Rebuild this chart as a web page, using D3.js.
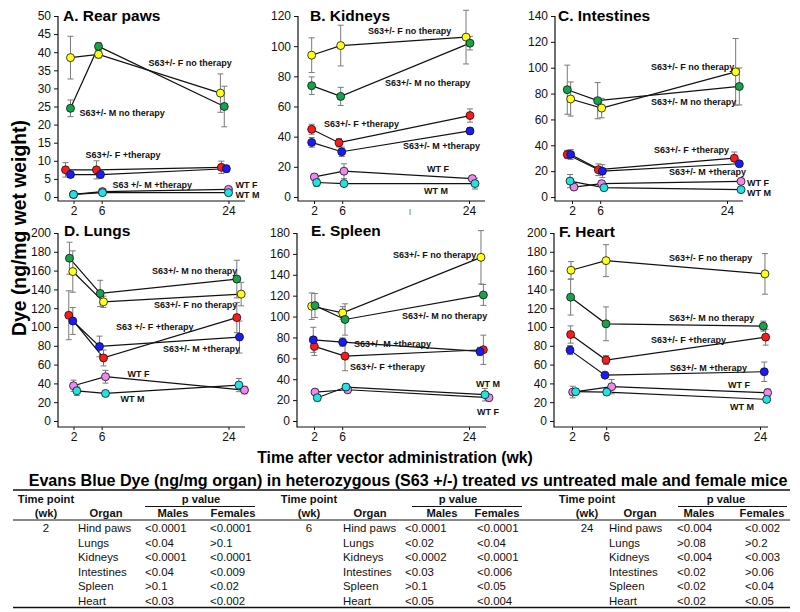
<!DOCTYPE html>
<html><head><meta charset="utf-8">
<script src="https://cdn.jsdelivr.net/npm/d3@7"></script>
<style>
body{margin:0;background:#fff}
svg{display:block}
text{font-family:"Liberation Sans",Arial,Helvetica,sans-serif}
</style>
</head><body>
<svg id="chart" width="800" height="612"></svg>
<script>
// ---------------- DATA ----------------
const seriesNames = ["S63+/- F no therapy","S63+/- M no therapy","S63+/- F +therapy","S63+/- M +therapy","WT F","WT M"];
const weekTicks = [2, 6, 24];

// A. Rear paws
const pawsWeek = [[1.57,5.55,22.85],[1.57,5.55,23.4],[0.87,5.26,22.99],[1.57,5.83,23.7],[2.0,6.11,24.0],[2.0,6.11,24.0]];
const pawsMean = [[38.5,39.4,28.7],[24.5,41.6,25.0],[7.5,7.5,8.2],[6.2,6.2,7.8],[0.7,1.5,2.1],[0.7,1.2,1.2]];
const pawsErr  = [[5.9,1.0,5.3],[2.3,1.1,5.6],[2.0,2.5,1.7],[0.7,1.0,1.0],[0.4,0.4,0.4],[0.3,0.3,0.3]];
// B. Kidneys
const kidWeek = [[1.67,5.79,23.58],[1.67,5.79,24.14],[1.67,5.55,24.14],[1.67,5.93,24.14],[2.05,6.26,24.47],[2.38,6.26,24.85]];
const kidMean = [[94.0,100.4,106],[73.8,66.7,102],[44.9,36,54],[36.2,30,43.8],[13.3,17.1,12.2],[9.6,8.9,8.9]];
const kidErr  = [[11.5,13.5,17.8],[5.8,6,4.5],[3.3,2.8,4.4],[3.2,3.1,2.2],[2,4.9,1.5],[2.5,1.5,3.6]];
// C. Intestines
const intWeek = [[1.81,6.21,25.23],[1.33,5.64,25.75],[1.33,5.74,25.04],[1.81,6.31,25.75],[2.28,6.21,25.99],[1.72,6.54,25.99]];
const intMean = [[75.8,68.8,96.8],[83,74.5,85.5],[32.9,21.1,30],[32.9,20,25.7],[7.7,10.3,12.1],[12.3,7.2,5.7]];
const intErr  = [[13.2,7.5,25.8],[19,14,14.3],[3.2,4.5,4.8],[3.8,5,2],[2,2,1],[5.1,1.5,1.5]];
// D. Lungs
const lungWeek = [[1.9,6.26,25.8],[1.43,5.79,25.18],[1.33,6.26,25.18],[1.9,5.69,25.56],[2.0,6.54,26.27],[2.47,6.54,25.47]];
const lungMean = [[159,126.8,135],[173.2,135.7,151],[112.5,67.1,110],[106.4,79.3,89.3],[37.5,47.1,32.9],[32.1,29.3,38.2]];
const lungErr  = [[22,6,12.5],[17,14,20],[26,8.5,16],[14.3,11,17],[6,6.8,4],[5,2,7]];
// E. Spleen
const splWeek = [[1.67,6.07,25.7],[2.14,6.4,26.04],[2.05,6.4,26.04],[1.9,6.07,25.56],[2.14,6.78,26.84],[2.47,6.54,26.27]];
const splMean = [[109.9,103.5,156.7],[110.5,97.2,120.7],[71.4,62.1,68.2],[77.7,75.5,66.6],[27.7,29.9,22.3],[22.3,32.5,25.2]];
const splErr  = [[12.7,6,25.6],[11.5,15,10],[8.6,14,14],[12,4,4],[2.5,3,2],[3,3,6]];
// F. Heart
const heartWeek = [[1.88,5.98,24.58],[1.84,5.98,24.39],[1.84,5.98,24.66],[1.77,5.86,24.5],[2.08,6.64,24.89],[2.43,6.06,24.78]];
const heartMean = [[160.4,170.6,156.5],[131.7,103.4,100.9],[92,64.8,89.2],[75.4,48.8,52.4],[30.8,36.5,30.1],[31.2,30.8,23]];
const heartErr  = [[9.2,17,21.6],[19,18,5.3],[9.2,4.8,8.5],[4.8,2,10.3],[6.2,7.6,4],[3,3,2.5]];

// Series label texts per panel (as printed) and their anchors in data units [week, value]
const pawsLabels  = ["S63+/- F no therapy","S63+/- M no therapy","S63+/- F +therapy","S63 +/- M +therapy","WT F","WT M"];
const pawsAnchor  = [[12.65,36.05],[2.85,22.5],[3.7,10.64],[7.54,2.62],[24.99,2.35],[24.99,-0.14]];
const kidLabels   = seriesNames;
const kidAnchor   = [[9.67,107.8],[12.08,73.3],[3.42,46.1],[14.63,31.5],[18.04,16.9],[17.61,2.3]];
const intLabels   = seriesNames;
const intAnchor   = [[13.21,98.6],[13.21,70.8],[13.64,34.4],[15.77,16.9],[26.84,8.8],[26.84,0.4]];
const lungLabels  = ["S63+/- F no therapy","S63+/- M no therapy","S63 +/- F +therapy","S63+/- M +therapy","WT F","WT M"];
const lungAnchor  = [[13.43,119.7],[13.14,155.9],[8.03,96.3],[14.71,72.9],[9.67,47.3],[8.67,20.7]];
const splLabels   = seriesNames;
const splAnchor   = [[13.21,156.5],[14.49,98.1],[7.11,48.4],[7.68,70.4],[25.14,6.2],[25.0,33.0]];
const heartLabels = seriesNames;
const heartAnchor = [[13.35,170.7],[13.35,106.9],[11.25,83.5],[13.47,52.7],[20.26,34.6],[20.49,12.2]];

// Table
const tableWeeks   = ["2","6","24"];
const tableOrgans  = ["Hind paws","Lungs","Kidneys","Intestines","Spleen","Heart"];
const pMales2   = ["<0.0001","<0.04","<0.0001","<0.04",">0.1","<0.03"];
const pFemales2 = ["<0.0001",">0.1","<0.0001","<0.009","<0.02","<0.002"];
const pMales6   = ["<0.0001","<0.02","<0.0002","<0.03",">0.1","<0.05"];
const pFemales6 = ["<0.0001","<0.04","<0.0001","<0.006","<0.05","<0.004"];
const pMales24  = ["<0.004",">0.08","<0.004","<0.02","<0.02","<0.02"];
const pFemales24= ["<0.002",">0.2","<0.003",">0.06","<0.04","<0.05"];

// ---------------- STYLE / LAYOUT ----------------
const colors = ["#ffff1a","#17a34a","#ff1a1a","#1a1aff","#ee88ee","#22e3e3"];
const FONT = '"Liberation Sans",Arial,Helvetica,sans-serif';

const panels = [
  {title:"A. Rear paws", week:pawsWeek, mean:pawsMean, err:pawsErr, labels:pawsLabels, anchor:pawsAnchor,
   yMax:50, yStep:5, axisX:58, xEnd:245, p2:73.5, p24:228.5, top:16, bottom:197, axisY:201, tx:63, ty:21},
  {title:"B. Kidneys", week:kidWeek, mean:kidMean, err:kidErr, labels:kidLabels, anchor:kidAnchor,
   yMax:120, yStep:20, axisX:298, xEnd:485, p2:314, p24:469, top:16, bottom:197, axisY:201, tx:310, ty:21},
  {title:"C. Intestines", week:intWeek, mean:intMean, err:intErr, labels:intLabels, anchor:intAnchor,
   yMax:140, yStep:20, axisX:555, xEnd:743, p2:572, p24:727, top:16, bottom:197, axisY:201, tx:558, ty:21},
  {title:"D. Lungs", week:lungWeek, mean:lungMean, err:lungErr, labels:lungLabels, anchor:lungAnchor,
   yMax:200, yStep:20, axisX:58, xEnd:245, p2:73.5, p24:228.5, top:233, bottom:421, axisY:427, tx:64, ty:236},
  {title:"E. Spleen", week:splWeek, mean:splMean, err:splErr, labels:splLabels, anchor:splAnchor,
   yMax:180, yStep:20, axisX:297, xEnd:486, p2:314, p24:469, top:233, bottom:421, axisY:427, tx:311, ty:236},
  {title:"F. Heart", week:heartWeek, mean:heartMean, err:heartErr, labels:heartLabels, anchor:heartAnchor,
   yMax:200, yStep:20, axisX:554, xEnd:768, p2:572, p24:760, top:233, bottom:421, axisY:427, tx:559, ty:237}
];

const svg = d3.select("#chart");
svg.append("rect").attr("width",800).attr("height",612).attr("fill","#fff");

function fitText(sel, target){
  const len = sel.node().getComputedTextLength();
  const fs = parseFloat(sel.attr("font-size"));
  sel.attr("font-size", fs*target/len);
}

panels.forEach(p => {
  const x = d3.scaleLinear().domain([2,24]).range([p.p2,p.p24]);
  const y = d3.scaleLinear().domain([0,p.yMax]).range([p.bottom,p.top]);
  const g = svg.append("g");

  // y axis ticks
  const ya = g.append("g").attr("transform",`translate(${p.axisX},0)`)
    .call(d3.axisLeft(y).tickValues(d3.range(0,p.yMax+0.001,p.yStep)).tickSize(4).tickPadding(3).tickFormat(d3.format("d")));
  ya.select(".domain").remove();
  ya.selectAll("text").attr("font-family",FONT).attr("font-size",12).attr("fill","#111");
  ya.selectAll("line").attr("stroke","#111");

  // x axis ticks
  const xa = g.append("g").attr("transform",`translate(0,${p.axisY})`)
    .call(d3.axisBottom(x).tickValues(weekTicks).tickSize(3).tickPadding(2).tickFormat(d3.format("d")));
  xa.select(".domain").remove();
  xa.selectAll("text").attr("font-family",FONT).attr("font-size",12).attr("fill","#111");
  xa.selectAll("line").attr("stroke","#111");

  // L-shaped axis frame
  g.append("path").attr("d",`M${p.axisX},${p.top}V${p.axisY}H${p.xEnd}`)
    .attr("fill","none").attr("stroke","#111").attr("stroke-width",1.2);

  // title
  g.append("text").attr("x",p.tx).attr("y",p.ty).attr("font-size",15.5).attr("font-weight","bold")
    .attr("fill","#000").text(p.title);

  const series = p.mean.map((m,i)=> m.map((v,j)=>({t:p.week[i][j], v, e:p.err[i][j], s:i})));

  // lines
  const line = d3.line().x(d=>x(d.t)).y(d=>y(d.v));
  series.forEach(s => {
    g.append("path").attr("d",line(s)).attr("fill","none").attr("stroke","#111").attr("stroke-width",1.2);
  });
  // error bars
  const all = series.flat();
  const eb = g.append("g").attr("stroke","#7a7a7a").attr("stroke-width",1);
  all.forEach(d => {
    const cx = x(d.t), y1 = y(d.v+d.e), y2 = y(Math.max(0,d.v-d.e));
    eb.append("line").attr("x1",cx).attr("x2",cx).attr("y1",y1).attr("y2",y2);
    eb.append("line").attr("x1",cx-3).attr("x2",cx+3).attr("y1",y1).attr("y2",y1);
    eb.append("line").attr("x1",cx-3).attr("x2",cx+3).attr("y1",y2).attr("y2",y2);
  });
  // markers
  g.append("g").selectAll("circle").data(all).join("circle")
    .attr("cx",d=>x(d.t)).attr("cy",d=>y(d.v)).attr("r",4)
    .attr("fill",d=>colors[d.s]).attr("stroke","#111").attr("stroke-width",0.8);

  // series labels
  p.labels.forEach((lab,i) => {
    g.append("text").attr("x",x(p.anchor[i][0])).attr("y",y(p.anchor[i][1]))
      .attr("font-size",9).attr("font-weight","bold").attr("fill","#111").text(lab);
  });
});

// stray error-bar glyph present in the source figure
svg.append("text").attr("x",410).attr("y",215).attr("text-anchor","middle")
  .attr("font-family","DejaVu Serif, serif").attr("font-size",9).attr("fill","#777").text("I");

// axis titles
const yl = svg.append("text").attr("transform","translate(26,228) rotate(-90)").attr("text-anchor","middle")
  .attr("font-size",19).attr("font-weight","bold").attr("fill","#000").text("Dye (ng/mg wet weight)");
fitText(yl, 216);
const xl = svg.append("text").attr("x",395).attr("y",463).attr("text-anchor","middle")
  .attr("font-size",16).attr("font-weight","bold").attr("fill","#000").text("Time after vector administration (wk)");
fitText(xl, 276);

// ---------------- TABLE ----------------
const tt = svg.append("text").attr("x",408).attr("y",486).attr("text-anchor","middle")
  .attr("font-size",17).attr("font-weight","bold").attr("fill","#000");
tt.append("tspan").text("Evans Blue Dye (ng/mg organ) in heterozygous (S63 +/-) treated ");
tt.append("tspan").attr("font-style","italic").text("vs");
tt.append("tspan").text(" untreated male and female mice");
fitText(tt, 759);

const tl = svg.append("g").attr("stroke","#111");
tl.append("line").attr("x1",13).attr("x2",790).attr("y1",490).attr("y2",490).attr("stroke-width",1.5);
tl.append("line").attr("x1",13).attr("x2",790).attr("y1",520).attr("y2",520).attr("stroke-width",1);
tl.append("line").attr("x1",13).attr("x2",790).attr("y1",607.5).attr("y2",607.5).attr("stroke-width",1.5);

const groups = [
  {week:tableWeeks[0], males:pMales2,  females:pFemales2,  timeC:46,  orgC:106, orgL:78,  pC:201, ulL:145, ulR:255, mC:173, mL:145, fC:233, fL:210},
  {week:tableWeeks[1], males:pMales6,  females:pFemales6,  timeC:309, orgC:370, orgL:343, pC:458, ulL:412, ulR:522, mC:442, mL:405, fC:497, fL:477},
  {week:tableWeeks[2], males:pMales24, females:pFemales24, timeC:587, orgC:640, orgL:609, pC:726, ulL:678, ulR:787, mC:699, mL:677, fC:762, fL:745}
];
const tg = svg.append("g").attr("fill","#111");
function tx(x,y,s,anchor,bold){
  return tg.append("text").attr("x",x).attr("y",y).attr("text-anchor",anchor||"start")
    .attr("font-size",bold?11.2:11.4).attr("font-weight",bold?"bold":"normal").text(s);
}
groups.forEach(gr => {
  tx(gr.timeC,503,"Time point","middle",true);
  tx(gr.pC,503,"p value","middle",true);
  tl.append("line").attr("x1",gr.ulL).attr("x2",gr.ulR).attr("y1",506.5).attr("y2",506.5).attr("stroke-width",1);
  tx(gr.timeC,517,"(wk)","middle",true);
  tx(gr.orgC,517,"Organ","middle",true);
  tx(gr.mC,517,"Males","middle",true);
  tx(gr.fC,517,"Females","middle",true);
  tx(gr.timeC,532,gr.week,"middle",false);
  tableOrgans.forEach((o,i) => {
    const yy = 532 + i*14.6;
    tx(gr.orgL,yy,o);
    tx(gr.mL,yy,gr.males[i]);
    tx(gr.fL,yy,gr.females[i]);
  });
});
</script>
</body></html>
